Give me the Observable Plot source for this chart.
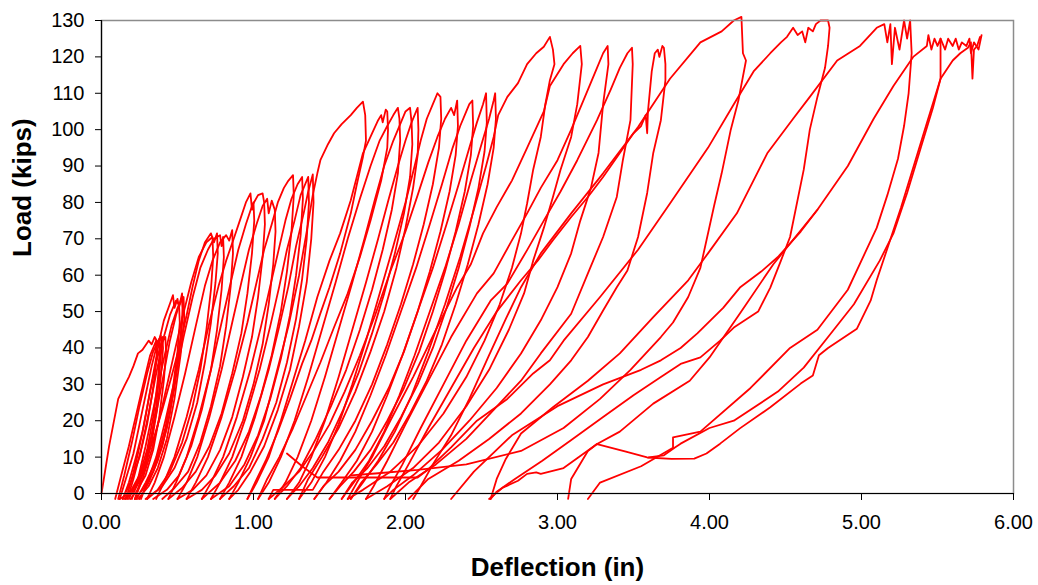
<!DOCTYPE html>
<html><head><meta charset="utf-8">
<script src="https://cdn.jsdelivr.net/npm/d3@7"></script>
<script src="https://cdn.jsdelivr.net/npm/@observablehq/plot@0.6"></script>
<style>body{margin:0;background:#fff;}</style>
</head><body><div id="chart"></div>
<script>
// Hand-read load/deflection traces, grouped by load stage. Each curve is a list of [deflection (in), load (kips)].
const groupA = [
 [[0,0],[0.05,13],[0.11,26],[0.15,29.5],[0.18,32],[0.21,35],[0.24,38.5],[0.27,39.5],[0.31,42],[0.33,41],[0.35,43],[0.37,41.5],[0.39,43.5],[0.395,40],[0.38,33],[0.36,24],[0.33,16],[0.29,9],[0.24,3],[0.18,0],[0.12,-1.5]],
 [[0.12,-1.5],[0.16,4],[0.21,11],[0.25,19],[0.29,27],[0.33,35],[0.36,40],[0.38,42],[0.4,43],[0.405,40],[0.39,32],[0.365,23],[0.33,14],[0.28,6],[0.22,1],[0.16,-1.5]],
 [[0.16,-1.5],[0.2,4],[0.24,11],[0.28,19],[0.32,28],[0.36,36],[0.39,41],[0.42,43],[0.425,39],[0.41,31],[0.38,21],[0.34,12],[0.29,5],[0.23,0.5],[0.19,-1.5]],
 [[0.09,-1.5],[0.13,5],[0.18,13],[0.23,22],[0.28,31],[0.32,38],[0.36,42],[0.365,38],[0.34,29],[0.3,19],[0.25,10],[0.19,3],[0.14,-1.5]],
 [[0.11,-1.5],[0.15,5],[0.2,14],[0.25,24],[0.3,33],[0.34,39],[0.38,42.5],[0.385,39],[0.37,31],[0.34,21],[0.3,12],[0.25,5],[0.19,0.5],[0.15,-1.5]]
];
const groupB = [
 [[0.14,-1.5],[0.18,3],[0.22,9],[0.27,17],[0.31,26],[0.35,35],[0.38,42],[0.41,47.5],[0.44,51],[0.47,54.5],[0.48,51],[0.5,53.5],[0.51,51],[0.53,55],[0.535,51],[0.52,43],[0.49,33],[0.45,22],[0.4,13],[0.34,6],[0.28,1.5],[0.22,-1.5]],
 [[0.22,-1.5],[0.26,4],[0.31,12],[0.36,22],[0.41,33],[0.45,42],[0.49,49],[0.52,53],[0.53,54],[0.535,49],[0.515,40],[0.48,29],[0.43,18],[0.37,9],[0.31,3],[0.25,-1.5]],
 [[0.2,-1.5],[0.24,4],[0.29,13],[0.35,25],[0.41,37],[0.46,46],[0.5,51],[0.54,54],[0.545,48],[0.52,38],[0.48,26],[0.43,15],[0.37,7],[0.31,2],[0.24,-1.5]],
 [[0.17,-1.5],[0.21,4],[0.26,12],[0.31,22],[0.36,33],[0.41,43],[0.45,49],[0.49,53],[0.51,52],[0.515,47],[0.5,39],[0.47,29],[0.42,18],[0.36,9],[0.29,3],[0.23,-1.5]]
];
const groupC = [
 [[0.18,-1.5],[0.23,3],[0.29,9],[0.35,16],[0.4,23],[0.46,32],[0.51,40],[0.56,49],[0.6,57],[0.64,64],[0.68,69],[0.72,71.5],[0.74,69],[0.76,71.5],[0.765,66],[0.75,58],[0.72,47],[0.68,36],[0.63,25],[0.56,15],[0.48,7],[0.4,2],[0.3,-1.5]],
 [[0.26,-1.5],[0.3,3],[0.36,10],[0.42,20],[0.48,31],[0.54,43],[0.6,54],[0.65,62],[0.7,67],[0.74,70],[0.78,71],[0.79,68],[0.8,70.5],[0.805,65],[0.79,56],[0.76,45],[0.72,34],[0.66,23],[0.59,13],[0.51,5],[0.43,1],[0.34,-1.5]],
 [[0.3,-1.5],[0.35,3],[0.41,10],[0.48,21],[0.55,33],[0.62,46],[0.68,57],[0.73,64],[0.78,69],[0.82,71],[0.84,69.5],[0.86,72.4],[0.865,66],[0.85,57],[0.82,46],[0.78,35],[0.72,24],[0.65,14],[0.57,6],[0.48,1.5],[0.4,-1.5]],
 [[0.22,-1.5],[0.27,4],[0.33,12],[0.4,24],[0.47,37],[0.53,48],[0.59,58],[0.64,65],[0.69,69],[0.73,70.5],[0.735,65],[0.72,56],[0.69,45],[0.65,34],[0.6,24],[0.53,14],[0.45,6],[0.37,1],[0.29,-1.5]]
];
const groupD = [
 [[0.36,-1.5],[0.41,3],[0.48,10],[0.56,21],[0.64,34],[0.71,47],[0.77,57],[0.82,64],[0.87,70],[0.91,75],[0.95,80],[0.98,82.5],[0.99,78],[1.0,80],[1.005,75],[0.99,66],[0.96,55],[0.92,44],[0.86,33],[0.79,22],[0.71,13],[0.62,6],[0.53,1.5],[0.44,-1.5]],
 [[0.44,-1.5],[0.49,3],[0.56,10],[0.64,21],[0.72,34],[0.79,47],[0.85,58],[0.9,67],[0.95,74],[0.99,79],[1.03,82],[1.06,82.5],[1.07,80],[1.075,74],[1.06,65],[1.03,54],[0.99,43],[0.93,32],[0.86,21],[0.78,12],[0.69,5],[0.6,1],[0.5,-1.5]],
 [[0.5,-1.5],[0.56,3],[0.63,10],[0.71,21],[0.79,34],[0.86,47],[0.92,58],[0.97,67],[1.02,74],[1.06,79],[1.09,81],[1.1,77],[1.12,80.5],[1.14,78],[1.145,72],[1.13,63],[1.1,52],[1.06,41],[1.0,30],[0.93,20],[0.84,11],[0.75,5],[0.66,1],[0.56,-1.5]]
];
const groupE = [
 [[0.56,-1.5],[0.62,3],[0.7,10],[0.79,21],[0.88,34],[0.96,47],[1.02,58],[1.07,67],[1.12,74],[1.16,80],[1.2,84],[1.23,86],[1.26,87.5],[1.265,82],[1.25,72],[1.22,61],[1.18,50],[1.12,38],[1.05,27],[0.97,17],[0.88,9],[0.78,3],[0.66,-1.5]],
 [[0.66,-1.5],[0.72,3],[0.8,10],[0.89,21],[0.98,34],[1.05,46],[1.11,57],[1.16,66],[1.21,75],[1.25,81],[1.29,85],[1.32,87],[1.325,81],[1.31,71],[1.28,60],[1.24,49],[1.18,37],[1.11,26],[1.03,16],[0.94,8],[0.84,2],[0.72,-1.5]],
 [[0.72,-1.5],[0.78,3],[0.86,10],[0.95,21],[1.04,34],[1.11,46],[1.17,57],[1.22,67],[1.27,75],[1.31,82],[1.34,85],[1.36,87],[1.365,80],[1.35,70],[1.32,59],[1.28,48],[1.22,36],[1.15,25],[1.06,15],[0.97,7],[0.87,2],[0.78,-1.5]],
 [[0.78,-1.5],[0.84,3],[0.92,10],[1.01,21],[1.1,34],[1.17,46],[1.23,57],[1.28,68],[1.33,77],[1.36,83],[1.39,87.7],[1.395,80],[1.38,70],[1.35,58],[1.3,46],[1.24,34],[1.16,23],[1.07,13],[0.98,6],[0.9,1],[0.84,-1.5]]
];
const groupF = [
 [[0.84,-1.5],[0.9,3],[0.98,10],[1.07,20],[1.15,33],[1.23,46],[1.3,60],[1.35,72],[1.39,82],[1.42,88],[1.44,91.6],[1.49,96],[1.53,99],[1.58,101.5],[1.64,104],[1.68,106],[1.72,107.7],[1.735,104],[1.74,97],[1.72,92.5],[1.68,85],[1.64,77],[1.57,66],[1.5,56.7],[1.44,49.5],[1.38,42],[1.32,35.7],[1.24,26],[1.16,17],[1.08,9],[1.01,3],[0.96,-1.5]]
];
const groupG = [
 [[0.96,-1.5],[1.02,3],[1.1,10],[1.18,20],[1.26,31],[1.34,42],[1.42,54],[1.5,64],[1.57,71.5],[1.64,80.6],[1.72,93.5],[1.78,99],[1.82,102.6],[1.84,104],[1.85,102],[1.87,105.5],[1.88,105],[1.885,100],[1.88,95],[1.84,86],[1.77,75],[1.7,65],[1.62,55],[1.53,45.7],[1.44,36],[1.35,27],[1.26,18],[1.17,10],[1.09,4],[1.03,-1.5]],
 [[1.03,-1.5],[1.1,3],[1.18,10],[1.27,20],[1.36,32],[1.45,45],[1.54,58],[1.62,70],[1.7,81],[1.77,90],[1.83,97],[1.88,101],[1.92,104],[1.95,106],[1.96,103],[1.965,97],[1.95,88],[1.91,78],[1.85,67],[1.78,56],[1.7,45],[1.61,34],[1.51,24],[1.41,15],[1.31,7],[1.22,2],[1.14,-1.5]],
 [[1.14,-1.5],[1.21,3],[1.29,10],[1.38,20],[1.47,32],[1.56,45],[1.65,58],[1.73,70],[1.8,81],[1.86,90],[1.92,97],[1.97,102],[2.0,105],[2.03,106],[2.04,102],[2.045,96],[2.03,87],[1.99,77],[1.93,66],[1.86,55],[1.78,44],[1.69,33],[1.59,23],[1.49,14],[1.39,7],[1.3,2],[1.22,-1.5]],
 [[1.22,-1.5],[1.3,3],[1.38,10],[1.47,20],[1.56,32],[1.65,45],[1.74,58],[1.82,70],[1.89,81],[1.95,90],[2.0,97],[2.04,102],[2.07,105],[2.08,106],[2.085,100],[2.08,93],[2.05,84],[2.0,73],[1.94,62],[1.86,50],[1.77,39],[1.67,28],[1.56,18],[1.45,10],[1.36,4],[1.3,-1.5]]
];
const groupH = [
 [[1.3,-1.5],[1.38,3],[1.47,10],[1.56,19],[1.65,30],[1.74,42],[1.83,55],[1.92,68],[2.0,80],[2.06,90],[2.1,97],[2.14,103],[2.18,107],[2.21,110],[2.23,109],[2.235,103],[2.22,95],[2.18,85],[2.12,74],[2.05,63],[1.97,52],[1.88,41],[1.78,30],[1.67,20],[1.56,12],[1.46,6],[1.39,1],[1.13,1],[1.1,-1.5]],
 [[1.1,-1.5],[1.2,2],[1.3,6],[1.4,12],[1.5,19],[1.6,28],[1.7,38],[1.8,49],[1.9,61],[2.0,72],[2.08,82],[2.15,91],[2.21,98],[2.26,103],[2.3,106],[2.32,104],[2.34,108],[2.345,101],[2.33,93],[2.29,83],[2.23,72],[2.16,61],[2.08,50],[1.99,39],[1.89,29],[1.78,20],[1.67,12],[1.56,6],[1.46,2],[1.4,-1.5]],
 [[1.4,-1.5],[1.48,3],[1.57,9],[1.67,17],[1.77,27],[1.87,38],[1.97,50],[2.07,62],[2.16,74],[2.24,85],[2.31,95],[2.36,101],[2.4,105],[2.42,107],[2.44,108],[2.445,101],[2.43,93],[2.39,83],[2.33,72],[2.26,61],[2.18,50],[2.09,39],[1.99,29],[1.88,20],[1.77,12],[1.66,6],[1.57,2],[1.5,-1.5]],
 [[1.5,-1.5],[1.58,3],[1.68,9],[1.78,17],[1.88,27],[1.98,38],[2.08,50],[2.18,62],[2.27,74],[2.35,85],[2.42,95],[2.47,102],[2.51,107],[2.53,110],[2.535,102],[2.52,94],[2.48,84],[2.42,73],[2.35,62],[2.27,51],[2.18,40],[2.08,30],[1.97,21],[1.86,13],[1.75,7],[1.65,3],[1.58,-1.5]],
 [[1.58,-1.5],[1.66,3],[1.76,9],[1.86,17],[1.96,27],[2.06,38],[2.16,50],[2.26,62],[2.35,74],[2.43,86],[2.5,96],[2.55,103],[2.58,108],[2.59,110],[2.595,103],[2.58,95],[2.54,85],[2.48,74],[2.41,63],[2.33,52],[2.24,41],[2.14,31],[2.03,22],[1.92,14],[1.81,8],[1.71,3],[1.64,-1.5]]
];
const groupI = [
 [[1.64,-1.5],[1.72,3],[1.82,9],[1.93,17],[2.04,27],[2.15,39],[2.26,52],[2.36,65],[2.45,78],[2.53,90],[2.58,98],[2.61,104],[2.67,109],[2.74,112.8],[2.8,118],[2.86,121],[2.91,122.8],[2.95,125.5],[2.97,122],[2.98,118],[2.95,113.6],[2.92,107],[2.89,98],[2.84,89],[2.8,79.7],[2.76,71.5],[2.7,62],[2.62,52],[2.52,42],[2.4,32],[2.25,22],[2.08,13],[1.9,6],[1.72,1],[1.62,-1.5]],
 [[1.62,-1.5],[1.68,3],[1.78,10],[1.9,20],[2.05,32],[2.2,45],[2.34,56.7],[2.43,63],[2.51,71.5],[2.6,78.7],[2.7,86],[2.8,95],[2.91,105],[2.95,112],[3.04,118],[3.1,121],[3.15,123],[3.16,118],[3.13,107],[3.09,98],[3.02,89],[2.97,81.5],[2.91,73],[2.84,64],[2.78,55],[2.68,45],[2.55,34],[2.4,24],[2.22,14],[2.05,7],[1.88,2],[1.74,-1.5]],
 [[1.74,-1.5],[1.79,2],[1.88,9],[2.0,19],[2.15,31],[2.3,43],[2.47,55],[2.58,60.5],[2.69,68.8],[2.8,77],[2.89,84],[3.0,91.6],[3.09,100],[3.17,108],[3.26,117],[3.3,121],[3.33,123],[3.335,118],[3.3,107],[3.27,93.6],[3.22,84],[3.15,75],[3.09,66],[3.0,56.7],[2.89,47.6],[2.76,38.5],[2.6,29],[2.42,20],[2.24,12],[2.05,5],[1.92,1],[1.86,-1.5]],
 [[1.86,-1.5],[1.9,2],[1.98,8],[2.1,18],[2.25,30],[2.4,42],[2.56,53],[2.67,57.7],[2.8,66.9],[2.91,75],[3.02,83],[3.13,91.6],[3.26,102.6],[3.35,111],[3.41,117],[3.46,121],[3.49,122.5],[3.495,118],[3.48,102.6],[3.43,91.6],[3.39,81.5],[3.3,70.5],[3.2,60.5],[3.09,49.4],[2.89,38.5],[2.76,31],[2.58,23],[2.4,15],[2.2,8],[2.02,3],[1.9,-1.5]],
 [[1.9,-1.5],[1.94,2],[2.02,8],[2.15,18],[2.3,29],[2.45,40],[2.6,50],[2.76,58.6],[2.87,64],[2.97,69.6],[3.09,76],[3.2,81.5],[3.3,87],[3.41,93.6],[3.5,99],[3.55,101],[3.58,104],[3.59,99],[3.595,105],[3.62,116],[3.64,121],[3.66,122],[3.67,120],[3.69,123],[3.7,122.5],[3.71,118],[3.71,113.6],[3.68,102.6],[3.63,93.6],[3.59,82.6],[3.53,70.5],[3.46,61.3],[3.39,56.7],[3.3,50.3],[3.2,43],[3.09,36.6],[2.95,30],[2.76,22],[2.55,15],[2.35,9],[2.15,4],[2.02,-1.5]]
];
const groupJ = [
 [[2.05,-1.5],[2.1,2],[2.18,8],[2.3,16],[2.42,26],[2.55,38],[2.66,48],[2.76,56.7],[2.89,66],[3.09,77],[3.3,88],[3.53,100.7],[3.74,114],[3.94,124],[4.08,127],[4.16,130],[4.21,131],[4.22,121],[4.24,119],[4.19,108],[4.14,100],[4.08,88],[4.03,79],[3.94,62],[3.86,54],[3.76,47],[3.68,43],[3.48,34],[3.28,26],[3.04,18],[2.76,11.7],[2.4,8],[2.08,6.5],[1.8,5.5],[1.64,5]],
 [[1.22,11],[1.32,7.5],[1.42,4.4],[2.08,4.4],[2.14,6.3],[2.3,12.7],[2.47,20],[2.67,26],[2.84,33],[2.95,36.6],[3.04,42],[3.28,54],[3.53,67],[3.74,79.7],[3.99,95],[4.16,107],[4.29,116],[4.4,121],[4.47,124],[4.51,125.5],[4.55,128],[4.58,126],[4.61,127],[4.63,124],[4.65,128],[4.68,127],[4.7,129],[4.73,130],[4.78,130],[4.79,128],[4.78,123],[4.76,117],[4.71,109],[4.66,100],[4.62,89],[4.53,70.5],[4.47,64],[4.4,56.6],[4.32,50],[4.16,45.6],[4.07,42],[3.94,37.4],[3.81,35.6],[3.68,32],[3.5,27],[3.3,21],[3.1,15],[2.9,9],[2.72,4],[2.6,0.5],[2.56,-1.5]],
 [[2.56,-1.5],[2.6,4],[2.66,9.5],[2.76,16.5],[2.97,23.7],[3.2,31],[3.41,38.5],[3.63,48.5],[3.86,58.6],[3.99,66],[4.18,77],[4.38,93.5],[4.55,103],[4.66,109],[4.84,119],[4.99,123],[5.1,128],[5.15,129],[5.17,124],[5.19,129],[5.2,118],[5.22,128],[5.25,122],[5.28,130],[5.3,125],[5.32,130],[5.33,121],[5.31,110],[5.28,101],[5.24,92],[5.17,82],[5.1,73],[4.91,56],[4.71,45],[4.53,40],[4.27,29],[3.94,17],[3.76,15.4],[3.76,12.6],[3.55,7.5],[3.28,3],[3.2,-1.5]],
 [[2.3,-1.5],[2.45,6],[2.7,16],[3.0,24],[3.3,30],[3.55,34],[3.68,36.6],[3.81,40],[3.92,44],[4.09,51],[4.2,56.6],[4.34,61],[4.45,65],[4.6,72],[4.71,78]],
 [[2.55,-1.5],[2.64,1.6],[2.74,3.5],[2.8,5.4],[2.86,5.8],[2.89,5.4],[3.04,7],[3.26,13.6],[3.41,17],[3.63,24.7],[3.87,31],[4.0,37.4],[4.2,49.5],[4.42,63],[4.71,78],[4.91,90],[5.08,103],[5.21,112],[5.34,120],[5.43,123],[5.44,126],[5.46,122],[5.48,125],[5.5,123],[5.52,125],[5.52,114],[5.47,106],[5.39,95],[5.3,82.6],[5.21,71.5],[5.12,64],[4.95,52],[4.78,43],[4.62,34.6],[4.45,28],[4.16,20],[4.0,18],[3.81,13.7],[3.77,12.6],[3.7,10.5],[3.6,9.9]],
 [[3.07,-1.5],[3.09,4],[3.2,11.7],[3.26,13.6],[3.45,11.5],[3.59,9.9],[3.75,9.5],[3.9,9.6],[3.98,11],[4.07,13.7],[4.2,17.9],[4.4,23.7],[4.6,30.2],[4.68,32.4],[4.72,38],[4.78,40],[4.97,45.3],[5.06,53],[5.1,58.6],[5.26,78.6],[5.43,101.8],[5.52,114],[5.6,119],[5.65,121],[5.7,122.5],[5.72,124],[5.73,114],[5.74,122],[5.76,123],[5.78,125.5]],
 [[5.52,125],[5.55,122],[5.57,125],[5.6,123],[5.62,125],[5.64,122],[5.66,124],[5.69,123],[5.71,125],[5.72,121],[5.74,124],[5.77,122],[5.79,126]]
];
const xTicks = [0, 1, 2, 3, 4, 5, 6];
const yTicks = [0, 10, 20, 30, 40, 50, 60, 70, 80, 90, 100, 110, 120, 130];
const xTitle = "Deflection (in)";
const yTitle = "Load (kips)";

const curves = [...groupA, ...groupB, ...groupC, ...groupD, ...groupE, ...groupF, ...groupG, ...groupH, ...groupI, ...groupJ];
const rows = curves.flatMap((c, i) => c.map(([x, y]) => ({x, y, id: i})));

const chart = Plot.plot({
  width: 1038, height: 585,
  marginLeft: 101, marginRight: 25, marginTop: 20, marginBottom: 92,
  style: {fontFamily: "'Liberation Sans', Arial, sans-serif", fontSize: "20px", background: "#fff", color: "#000"},
  x: {domain: [0, 6]},
  y: {domain: [0, 130]},
  marks: [
    Plot.line(rows, {x: "x", y: "y", z: "id", stroke: "#ff0000", strokeWidth: 1.8, strokeLinejoin: "round"}),
    Plot.frame({stroke: "#8c8c8c", strokeWidth: 1.5}),
    Plot.ruleX([0], {stroke: "#000", strokeWidth: 1.2}),
    Plot.ruleY([0], {stroke: "#000", strokeWidth: 1.2}),
    Plot.axisX({ticks: xTicks, tickFormat: d3.format(".2f"), tickSize: 7, tickPadding: 14, label: null, fontSize: 20}),
    Plot.axisY({ticks: yTicks, tickSize: 6, tickPadding: 11, label: null, fontSize: 20}),
    Plot.text([xTitle], {text: d => d, frameAnchor: "bottom", dy: 82, fontWeight: "bold", fontSize: 26}),
    Plot.text([yTitle], {text: d => d, frameAnchor: "left", dx: -79, rotate: -90, fontWeight: "bold", fontSize: 26})
  ]
});
document.getElementById("chart").appendChild(chart);
</script>
</body></html>
